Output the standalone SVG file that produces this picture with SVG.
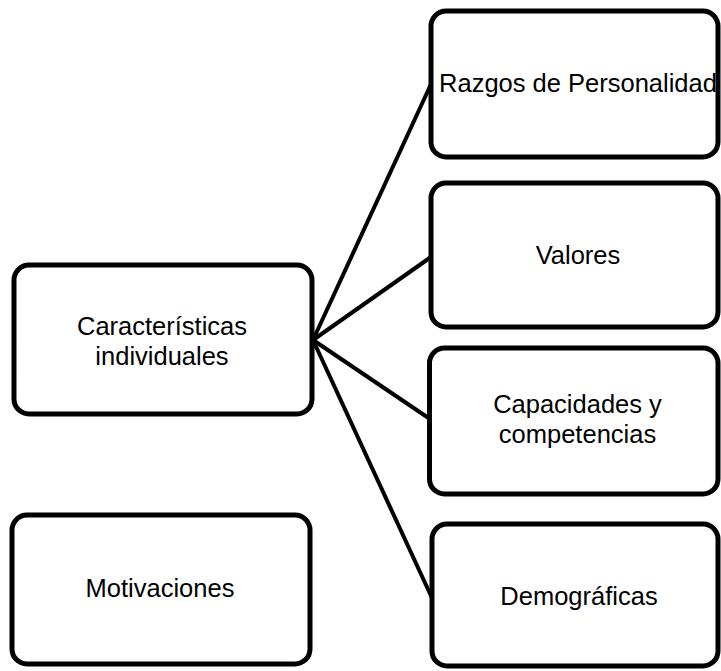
<svg xmlns="http://www.w3.org/2000/svg" width="721" height="671" viewBox="0 0 721 671">
<style>
.box{fill:#fff;stroke:#000;stroke-width:5}
.lbl{font-family:"Liberation Sans",Arial,sans-serif;font-size:25.5px;fill:#000;text-anchor:middle}
.con{stroke:#000;stroke-width:4;fill:none}
</style>
<rect width="721" height="671" fill="#fff"/>
<g id="connectors">
<line class="con" x1="313" y1="340" x2="432" y2="82"/>
<line class="con" x1="313" y1="340" x2="431" y2="257"/>
<line class="con" x1="313" y1="340" x2="430" y2="419"/>
<line class="con" x1="313" y1="340" x2="432" y2="598"/>
</g>
<g id="caracteristicas">
<rect class="box" x="14" y="265" width="298" height="149" rx="15"/>
<text class="lbl" x="162" y="335">Características</text>
<text class="lbl" x="162" y="365">individuales</text>
</g>
<g id="motivaciones">
<rect class="box" x="12" y="515" width="298" height="149" rx="15"/>
<text class="lbl" x="160" y="597">Motivaciones</text>
</g>
<g id="razgos">
<rect class="box" x="431" y="11" width="287" height="146" rx="15"/>
<text class="lbl" x="578" y="92">Razgos de Personalidad</text>
</g>
<g id="valores">
<rect class="box" x="431" y="183" width="287" height="144" rx="15"/>
<text class="lbl" x="578" y="264">Valores</text>
</g>
<g id="capacidades">
<rect class="box" x="429.5" y="348" width="288.5" height="146" rx="15"/>
<text class="lbl" x="577.5" y="413">Capacidades y</text>
<text class="lbl" x="577.5" y="443">competencias</text>
</g>
<g id="demograficas">
<rect class="box" x="432" y="524" width="286" height="142" rx="15"/>
<text class="lbl" x="579" y="605">Demográficas</text>
</g>
</svg>
